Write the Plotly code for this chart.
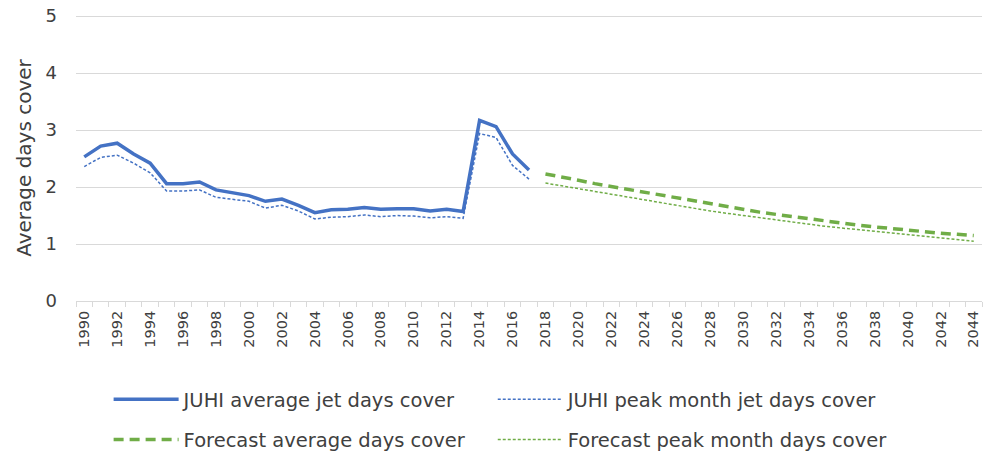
import plotly.graph_objects as go

hist_years = list(range(1990, 2018))
fc_years = list(range(2018, 2045))
tick_labels = [str(y) for y in range(1990, 2045, 2)]

juhi_avg = [2.53, 2.72, 2.77, 2.58, 2.42, 2.06, 2.06, 2.09, 1.95, 1.90, 1.85, 1.75, 1.79, 1.68,
            1.55, 1.60, 1.61, 1.64, 1.61, 1.62, 1.62, 1.58, 1.61, 1.57, 3.17, 3.06, 2.58, 2.30]
juhi_peak = [2.36, 2.52, 2.56, 2.42, 2.25, 1.93, 1.93, 1.95, 1.82, 1.78, 1.75, 1.63, 1.68, 1.58,
             1.44, 1.47, 1.48, 1.51, 1.48, 1.50, 1.49, 1.46, 1.48, 1.45, 2.94, 2.87, 2.38, 2.14]
fc_avg = [2.23, 2.18, 2.12, 2.06, 2.01, 1.95, 1.90, 1.85, 1.80, 1.75, 1.70, 1.65, 1.60, 1.56,
          1.52, 1.48, 1.44, 1.40, 1.37, 1.33, 1.30, 1.27, 1.24, 1.21, 1.19, 1.17, 1.15]
fc_peak = [2.07, 2.02, 1.97, 1.92, 1.87, 1.82, 1.77, 1.72, 1.68, 1.63, 1.58, 1.54, 1.50, 1.46,
           1.42, 1.38, 1.35, 1.31, 1.28, 1.25, 1.22, 1.19, 1.16, 1.13, 1.10, 1.08, 1.05]

BLUE = "#4472C4"
GREEN = "#70AD47"
FONT = "DejaVu Sans"
TXT = "#404040"

fig = go.Figure()
fig.add_trace(go.Scatter(x=hist_years, y=juhi_avg, mode="lines", name="JUHI average jet days cover",
                         line=dict(color=BLUE, width=3.5), legend="legend"))
fig.add_trace(go.Scatter(x=hist_years, y=juhi_peak, mode="lines", name="JUHI peak month jet days cover",
                         line=dict(color=BLUE, width=1.5, dash="3px,2px"), legend="legend2"))
fig.add_trace(go.Scatter(x=fc_years, y=fc_avg, mode="lines", name="Forecast average days cover",
                         line=dict(color=GREEN, width=3.5, dash="10px,6px"), legend="legend3"))
fig.add_trace(go.Scatter(x=fc_years, y=fc_peak, mode="lines", name="Forecast peak month days cover",
                         line=dict(color=GREEN, width=1.5, dash="3px,2px"), legend="legend4"))

leg_common = dict(orientation="h", xanchor="left", yanchor="middle", itemwidth=65,
                  font=dict(family=FONT, size=19.5, color=TXT), bgcolor="rgba(0,0,0,0)")
COL1, COL2 = 0.036, 0.46
ROW1, ROW2 = -0.345, -0.485

fig.update_layout(
    width=983, height=454,
    margin=dict(l=76, r=1, t=15, b=153, autoexpand=False),
    paper_bgcolor="white", plot_bgcolor="white",
    font=dict(family=FONT, size=15, color=TXT),
    showlegend=True,
    legend=dict(x=COL1, y=ROW1, **leg_common),
    legend2=dict(x=COL2, y=ROW1, **leg_common),
    legend3=dict(x=COL1, y=ROW2, **leg_common),
    legend4=dict(x=COL2, y=ROW2, **leg_common),
)
fig.update_xaxes(
    range=[1989.5, 2044.5],
    tickmode="array", tickvals=list(range(1990, 2045, 2)), ticktext=tick_labels,
    tickangle=-90, ticks="", showgrid=False, ticklabelstandoff=3,
    ticklabeloverflow="allow",
    showline=True, linecolor="#d9d9d9", linewidth=1,
    minor=dict(tickmode="array", tickvals=[y - 0.5 for y in range(1990, 2046)],
               ticks="outside", ticklen=5, tickcolor="#d9d9d9", showgrid=False),
    tickfont=dict(size=14.5),
)
fig.update_yaxes(
    range=[0, 5.02], tickvals=[0, 1, 2, 3, 4, 5], showgrid=True, gridcolor="#d9d9d9", gridwidth=1,
    zeroline=False, showline=False, ticks="",
    ticklabelstandoff=18, ticklabeloverflow="allow",
    title=dict(text="Average days cover", font=dict(size=20), standoff=8),
    tickfont=dict(size=18),
)

fig.write_html("out.html", config={"displayModeBar": False},
               post_script="document.body.style.margin='0px';")
